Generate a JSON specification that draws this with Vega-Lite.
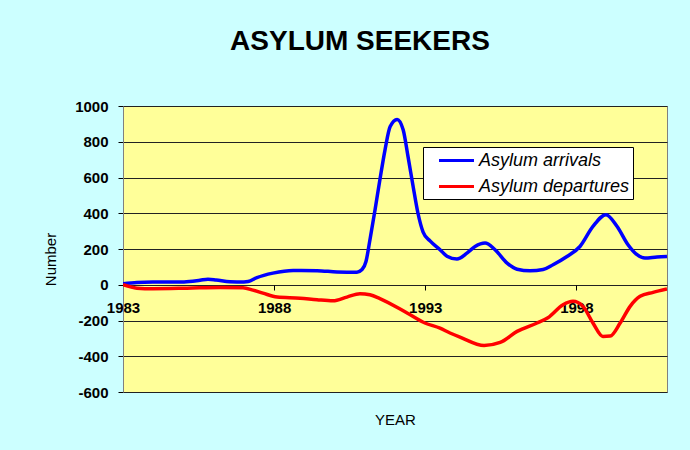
{
  "$schema": "https://vega.github.io/schema/vega-lite/v6.json",
  "width": 544,
  "height": 286,
  "autosize": {"type": "none"},
  "padding": {"left": 123, "top": 106, "right": 23, "bottom": 58},
  "background": "#CCFFFF",
  "title": {
    "text": "ASYLUM SEEKERS",
    "font": "Liberation Sans",
    "fontSize": 28,
    "fontWeight": "bold",
    "color": "black",
    "anchor": "middle",
    "dx": -35,
    "offset": 43
  },
  "config": {
    "view": {"fill": "#FFFF99", "stroke": "#808080", "strokeWidth": 1},
    "axis": {
      "labelFont": "Liberation Sans",
      "labelFontSize": 15,
      "labelFontWeight": "bold",
      "labelColor": "black",
      "titleFont": "Liberation Sans",
      "titleFontSize": 15,
      "titleFontWeight": "normal",
      "titleColor": "black",
      "tickColor": "black",
      "gridColor": "#222222",
      "gridOpacity": 1,
      "gridWidth": 1
    }
  },
  "data": {
    "values": [
      {"year": 1983.00, "value": 5, "series": "Asylum arrivals"},
      {"year": 1983.46, "value": 12, "series": "Asylum arrivals"},
      {"year": 1983.99, "value": 15, "series": "Asylum arrivals"},
      {"year": 1985.02, "value": 16, "series": "Asylum arrivals"},
      {"year": 1985.55, "value": 25, "series": "Asylum arrivals"},
      {"year": 1985.81, "value": 31, "series": "Asylum arrivals"},
      {"year": 1986.08, "value": 27, "series": "Asylum arrivals"},
      {"year": 1986.54, "value": 17, "series": "Asylum arrivals"},
      {"year": 1987.00, "value": 16, "series": "Asylum arrivals"},
      {"year": 1987.14, "value": 18, "series": "Asylum arrivals"},
      {"year": 1987.43, "value": 40, "series": "Asylum arrivals"},
      {"year": 1987.96, "value": 65, "series": "Asylum arrivals"},
      {"year": 1988.63, "value": 80, "series": "Asylum arrivals"},
      {"year": 1989.42, "value": 79, "series": "Asylum arrivals"},
      {"year": 1990.08, "value": 72, "series": "Asylum arrivals"},
      {"year": 1990.74, "value": 70, "series": "Asylum arrivals"},
      {"year": 1990.91, "value": 85, "series": "Asylum arrivals"},
      {"year": 1991.04, "value": 130, "series": "Asylum arrivals"},
      {"year": 1991.17, "value": 250, "series": "Asylum arrivals"},
      {"year": 1991.34, "value": 420, "series": "Asylum arrivals"},
      {"year": 1991.50, "value": 587, "series": "Asylum arrivals"},
      {"year": 1991.67, "value": 755, "series": "Asylum arrivals"},
      {"year": 1991.84, "value": 885, "series": "Asylum arrivals"},
      {"year": 1992.07, "value": 925, "series": "Asylum arrivals"},
      {"year": 1992.27, "value": 867, "series": "Asylum arrivals"},
      {"year": 1992.43, "value": 718, "series": "Asylum arrivals"},
      {"year": 1992.60, "value": 550, "series": "Asylum arrivals"},
      {"year": 1992.76, "value": 400, "series": "Asylum arrivals"},
      {"year": 1992.93, "value": 295, "series": "Asylum arrivals"},
      {"year": 1993.16, "value": 245, "series": "Asylum arrivals"},
      {"year": 1993.49, "value": 196, "series": "Asylum arrivals"},
      {"year": 1993.72, "value": 160, "series": "Asylum arrivals"},
      {"year": 1994.05, "value": 144, "series": "Asylum arrivals"},
      {"year": 1994.38, "value": 177, "series": "Asylum arrivals"},
      {"year": 1994.65, "value": 214, "series": "Asylum arrivals"},
      {"year": 1994.98, "value": 233, "series": "Asylum arrivals"},
      {"year": 1995.31, "value": 196, "series": "Asylum arrivals"},
      {"year": 1995.71, "value": 121, "series": "Asylum arrivals"},
      {"year": 1996.04, "value": 87, "series": "Asylum arrivals"},
      {"year": 1996.47, "value": 78, "series": "Asylum arrivals"},
      {"year": 1996.90, "value": 85, "series": "Asylum arrivals"},
      {"year": 1997.23, "value": 112, "series": "Asylum arrivals"},
      {"year": 1997.69, "value": 158, "series": "Asylum arrivals"},
      {"year": 1998.12, "value": 214, "series": "Asylum arrivals"},
      {"year": 1998.55, "value": 326, "series": "Asylum arrivals"},
      {"year": 1998.98, "value": 392, "series": "Asylum arrivals"},
      {"year": 1999.35, "value": 326, "series": "Asylum arrivals"},
      {"year": 1999.71, "value": 224, "series": "Asylum arrivals"},
      {"year": 2000.01, "value": 168, "series": "Asylum arrivals"},
      {"year": 2000.27, "value": 149, "series": "Asylum arrivals"},
      {"year": 2000.67, "value": 155, "series": "Asylum arrivals"},
      {"year": 2001.00, "value": 158, "series": "Asylum arrivals"},
      {"year": 1983.00, "value": 0, "series": "Asylum departures"},
      {"year": 1983.46, "value": -19, "series": "Asylum departures"},
      {"year": 1983.99, "value": -22, "series": "Asylum departures"},
      {"year": 1985.12, "value": -19, "series": "Asylum departures"},
      {"year": 1986.21, "value": -15, "series": "Asylum departures"},
      {"year": 1986.97, "value": -17, "series": "Asylum departures"},
      {"year": 1987.30, "value": -30, "series": "Asylum departures"},
      {"year": 1987.63, "value": -47, "series": "Asylum departures"},
      {"year": 1988.10, "value": -69, "series": "Asylum departures"},
      {"year": 1988.86, "value": -75, "series": "Asylum departures"},
      {"year": 1989.42, "value": -84, "series": "Asylum departures"},
      {"year": 1989.95, "value": -90, "series": "Asylum departures"},
      {"year": 1990.41, "value": -69, "series": "Asylum departures"},
      {"year": 1990.84, "value": -50, "series": "Asylum departures"},
      {"year": 1991.17, "value": -56, "series": "Asylum departures"},
      {"year": 1991.50, "value": -77, "series": "Asylum departures"},
      {"year": 1992.40, "value": -158, "series": "Asylum departures"},
      {"year": 1992.99, "value": -214, "series": "Asylum departures"},
      {"year": 1993.49, "value": -243, "series": "Asylum departures"},
      {"year": 1993.82, "value": -270, "series": "Asylum departures"},
      {"year": 1994.15, "value": -293, "series": "Asylum departures"},
      {"year": 1994.95, "value": -340, "series": "Asylum departures"},
      {"year": 1995.48, "value": -323, "series": "Asylum departures"},
      {"year": 1996.04, "value": -261, "series": "Asylum departures"},
      {"year": 1996.70, "value": -214, "series": "Asylum departures"},
      {"year": 1997.06, "value": -185, "series": "Asylum departures"},
      {"year": 1997.56, "value": -112, "series": "Asylum departures"},
      {"year": 1997.89, "value": -93, "series": "Asylum departures"},
      {"year": 1998.22, "value": -121, "series": "Asylum departures"},
      {"year": 1998.55, "value": -214, "series": "Asylum departures"},
      {"year": 1998.88, "value": -289, "series": "Asylum departures"},
      {"year": 1999.12, "value": -287, "series": "Asylum departures"},
      {"year": 1999.45, "value": -214, "series": "Asylum departures"},
      {"year": 1999.78, "value": -121, "series": "Asylum departures"},
      {"year": 2000.11, "value": -65, "series": "Asylum departures"},
      {"year": 2000.54, "value": -43, "series": "Asylum departures"},
      {"year": 2001.00, "value": -24, "series": "Asylum departures"}
    ]
  },
  "mark": {"type": "line", "strokeWidth": 3.5, "interpolate": "monotone", "clip": true},
  "encoding": {
    "x": {
      "field": "year",
      "type": "quantitative",
      "scale": {"domain": [1983, 2001], "nice": false, "zero": false},
      "axis": {
        "title": "YEAR",
        "values": [1983, 1988, 1993, 1998],
        "format": "d",
        "grid": false,
        "domain": false,
        "offset": -107,
        "tickSize": 5,
        "labelPadding": 10,
        "labelFlush": false,
        "labelOverlap": false,
        "labelBound": false,
        "titleY": 134,
        "titleBaseline": "middle",
        "titleFontWeight": "normal"
      }
    },
    "y": {
      "field": "value",
      "type": "quantitative",
      "scale": {"domain": [-600, 1000], "nice": false, "zero": false},
      "axis": {
        "title": "Number",
        "values": [-600, -400, -200, 0, 200, 400, 600, 800, 1000],
        "labelExpr": "'' + datum.value",
        "grid": true,
        "domain": true,
        "domainColor": "#808080",
        "tickSize": 5,
        "labelPadding": 10,
        "titleAngle": 270,
        "titleAlign": "center",
        "titleBaseline": "middle",
        "titleX": -73,
        "titleY": 153
      }
    },
    "color": {
      "field": "series",
      "type": "nominal",
      "scale": {"domain": ["Asylum arrivals", "Asylum departures"], "range": ["#0000FF", "#FF0000"]},
      "legend": {
        "title": null,
        "orient": "none",
        "legendX": 300,
        "legendY": 41,
        "fillColor": "white",
        "strokeColor": "black",
        "padding": 3,
        "symbolType": "M-2,0H2",
        "symbolSize": 306,
        "symbolStrokeWidth": 3,
        "symbolOffset": 20,
        "labelFont": "Liberation Sans",
        "labelFontStyle": "italic",
        "labelFontSize": 18,
        "labelColor": "black",
        "labelOffset": 12,
        "rowPadding": 6,
        "labelLimit": 300
      }
    }
  }
}
